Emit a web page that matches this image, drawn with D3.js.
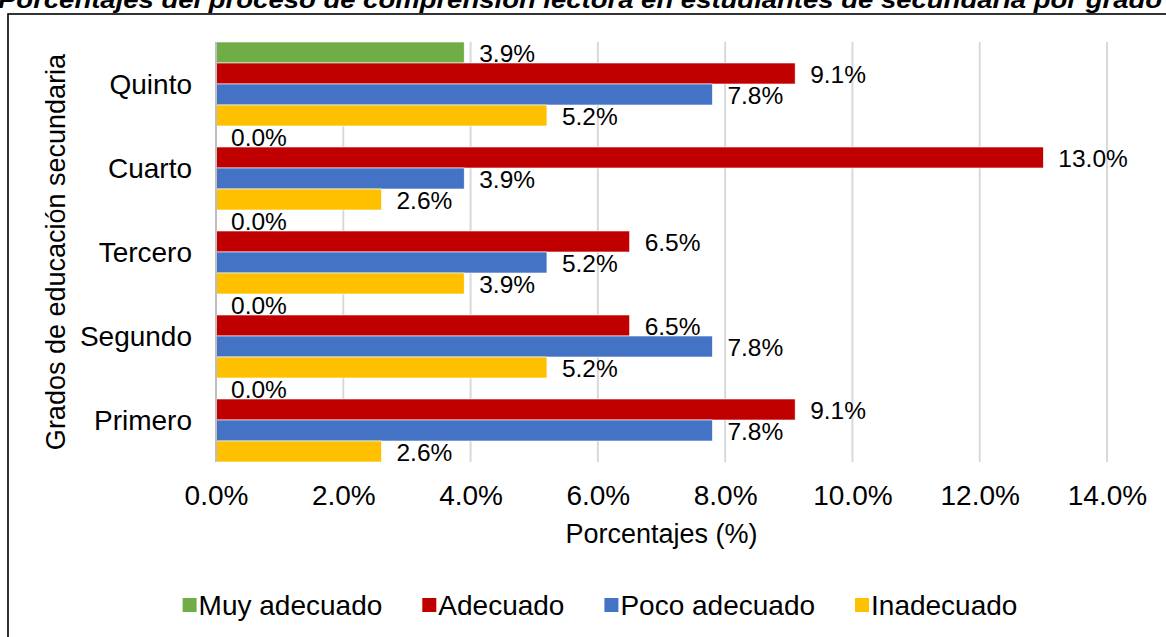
<!DOCTYPE html>
<html>
<head>
<meta charset="utf-8">
<script src="https://cdn.jsdelivr.net/npm/d3@7"></script>
<style>
  body { margin: 0; background: #fff; }
  svg { display: block; font-family: "Liberation Sans", Arial, sans-serif; }
</style>
</head>
<body>
<div id="chart"></div>
<script>
// Datos del gráfico
const grados = ["Quinto", "Cuarto", "Tercero", "Segundo", "Primero"];
const series = ["Muy adecuado", "Adecuado", "Poco adecuado", "Inadecuado"];
const colores = ["#70AD47", "#C00000", "#4472C4", "#FFC000"];
// valores (%) por grado, en el orden de las series
const muyAdecuado = [3.9, 0.0, 0.0, 0.0, 0.0];
const adecuado = [9.1, 13.0, 6.5, 6.5, 9.1];
const pocoAdecuado = [7.8, 3.9, 5.2, 7.8, 7.8];
const inadecuado = [5.2, 2.6, 3.9, 5.2, 2.6];
const xTicks = [0, 2, 4, 6, 8, 10, 12, 14];
const titulo = "Porcentajes del proceso de comprensión lectora en estudiantes de secundaria por grado";

const valores = [muyAdecuado, adecuado, pocoAdecuado, inadecuado];

const W = 1166, H = 637;
const svg = d3.select("#chart").append("svg")
    .attr("width", W)
    .attr("height", H);

// título (recortado arriba, como en la imagen)
svg.append("text")
    .attr("x", -2)
    .attr("y", 8)
    .attr("textLength", 1164)
    .attr("lengthAdjust", "spacingAndGlyphs")
    .style("font-size", "24px")
    .style("font-style", "italic")
    .style("font-weight", "bold")
    .style("fill", "#000")
    .text(titulo);

// marco del gráfico
svg.append("rect")
    .attr("x", 8)
    .attr("y", 14)
    .attr("width", W + 20)
    .attr("height", H + 20)
    .attr("fill", "none")
    .attr("stroke", "#000")
    .attr("stroke-width", 1.6);

const plot = { left: 216, right: 1107, top: 42, bottom: 462 };

const x = d3.scaleLinear().domain([0, 14]).range([plot.left, plot.right]);
const y = d3.scaleBand().domain(grados).range([plot.top, plot.bottom]).padding(0);
const ySub = d3.scaleBand().domain(series).range([0, y.bandwidth()]).padding(0);

// líneas de cuadrícula
svg.append("g")
    .selectAll("line")
    .data(xTicks)
    .enter().append("line")
    .attr("x1", d => x(d))
    .attr("x2", d => x(d))
    .attr("y1", plot.top)
    .attr("y2", plot.bottom)
    .attr("stroke", "#D9D9D9")
    .attr("stroke-width", 2);

// barras
const grupos = svg.append("g")
    .selectAll("g")
    .data(grados)
    .enter().append("g")
    .attr("transform", d => `translate(0,${y(d)})`);

const celdas = grupos.selectAll("g")
    .data((g, gi) => series.map((s, si) => ({ serie: s, si: si, valor: valores[si][gi] })))
    .enter().append("g");

celdas.append("rect")
    .attr("x", x(0))
    .attr("y", d => ySub(d.serie))
    .attr("width", d => x(d.valor) - x(0))
    .attr("height", ySub.bandwidth())
    .attr("fill", d => colores[d.si])
    .attr("stroke", d => d.valor > 0 ? "#fff" : "none")
    .attr("stroke-width", 0.6);

// etiquetas de datos
celdas.append("text")
    .attr("x", d => x(d.valor) + 15)
    .attr("y", d => ySub(d.serie) + ySub.bandwidth() / 2 + 1)
    .attr("dominant-baseline", "central")
    .style("font-size", "24.5px")
    .style("fill", "#000")
    .text(d => d.valor.toFixed(1) + "%");

// eje Y (línea base)
svg.append("line")
    .attr("x1", x(0)).attr("x2", x(0))
    .attr("y1", plot.top).attr("y2", plot.bottom)
    .attr("stroke", "#BFBFBF")
    .attr("stroke-width", 2);

// etiquetas de categoría
svg.append("g")
    .selectAll("text")
    .data(grados)
    .enter().append("text")
    .attr("x", 192)
    .attr("y", d => y(d) + y.bandwidth() / 2)
    .attr("text-anchor", "end")
    .attr("dominant-baseline", "central")
    .style("font-size", "28px")
    .text(d => d);

// etiquetas del eje X
const xAxis = d3.axisBottom(x)
    .tickValues(xTicks)
    .tickFormat(d => d.toFixed(1) + "%")
    .tickSize(0)
    .tickPadding(0);

const gx = svg.append("g")
    .attr("transform", `translate(0,${plot.bottom})`)
    .call(xAxis);
gx.select(".domain").remove();
gx.selectAll("text")
    .attr("dy", null)
    .attr("y", 43)
    .style("font-size", "28px")
    .style("font-family", "'Liberation Sans', Arial, sans-serif")
    .style("fill", "#000");

// títulos de ejes
svg.append("text")
    .attr("x", (plot.left + plot.right) / 2)
    .attr("y", 543)
    .attr("text-anchor", "middle")
    .style("font-size", "27px")
    .text("Porcentajes (%)");

svg.append("text")
    .attr("transform", `translate(65,${(plot.top + plot.bottom) / 2}) rotate(-90)`)
    .attr("text-anchor", "middle")
    .style("font-size", "27px")
    .text("Grados de educación secundaria");

// leyenda
const leyenda = svg.append("g");
const items = leyenda.selectAll("g")
    .data(series)
    .enter().append("g");

items.append("rect")
    .attr("width", 14)
    .attr("height", 14)
    .attr("y", -7)
    .attr("fill", (d, i) => colores[i]);

items.append("text")
    .attr("x", 16)
    .attr("dominant-baseline", "central")
    .style("font-size", "28px")
    .text(d => d);

let pos = 0;
const posiciones = [];
items.each(function () {
    posiciones.push(pos);
    const w = this.querySelector("text").getComputedTextLength();
    pos += 16 + w + 40;
});
const total = pos - 40;
const inicio = 600 - total / 2;
items.attr("transform", (d, i) => `translate(${inicio + posiciones[i]},605)`);
</script>
</body>
</html>
